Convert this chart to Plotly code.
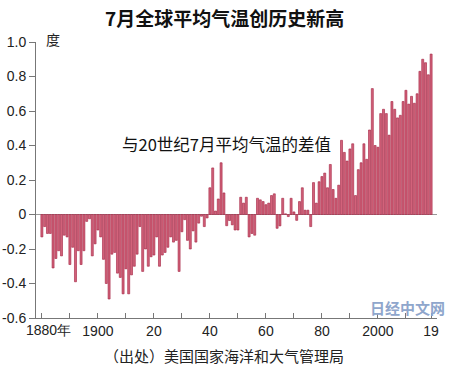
import plotly.graph_objects as go

years = list(range(1880, 2020))
anomaly = [
    -0.13, -0.07, -0.11, -0.11, -0.31, -0.255, -0.21, -0.24, -0.12, -0.13,   # 1880s
    -0.29, -0.19, -0.39, -0.21, -0.29, -0.21, -0.04, -0.025, -0.24, -0.17,   # 1890s
    -0.09, -0.13, -0.26, -0.40, -0.49, -0.23, -0.22, -0.34, -0.365, -0.46,   # 1900s
    -0.315, -0.46, -0.35, -0.30, -0.23, -0.07, -0.33, -0.20, -0.30, -0.245,  # 1910s
    -0.235, -0.13, -0.30, -0.235, -0.22, -0.19, -0.13, -0.16, -0.15, -0.33,  # 1920s
    -0.10, -0.03, -0.15, -0.20, -0.095, -0.16, -0.05, -0.01, -0.07, -0.02,   # 1930s
    0.155, 0.27, 0.02, 0.09, 0.30, 0.125, -0.065, -0.035, -0.06, -0.09,      # 1940s
    -0.09, 0.10, 0.066, 0.10, -0.13, -0.11, -0.12, 0.094, 0.085, 0.075,      # 1950s
    0.057, 0.066, 0.11, 0.12, -0.08, -0.066, 0.094, 0.004, -0.012, 0.094,    # 1960s
    0.015, -0.034, 0.075, 0.155, 0.025, 0.025, -0.07, 0.185, 0.066, 0.19,    # 1970s
    0.22, 0.24, 0.155, 0.29, 0.145, 0.094, 0.17, 0.43, 0.36, 0.31,           # 1980s
    0.38, 0.41, 0.11, 0.26, 0.30, 0.41, 0.32, 0.49, 0.73, 0.40,              # 1990s
    0.39, 0.585, 0.61, 0.585, 0.46, 0.655, 0.61, 0.56, 0.575, 0.655,         # 2000s
    0.72, 0.64, 0.685, 0.645, 0.70, 0.83, 0.90, 0.88, 0.81, 0.93,            # 2010s
]

x_tickvals = [1880, 1890, 1900, 1910, 1920, 1930, 1940, 1950, 1960, 1970, 1980, 1990, 2000, 2010, 2019]
x_ticktext = ["1880年", "", "1900", "", "20", "", "40", "", "60", "", "80", "", "2000", "", "19"]
y_tickvals = [1.0, 0.8, 0.6, 0.4, 0.2, 0, -0.2, -0.4, -0.6]
y_ticktext = ["1.0", "0.8", "0.6", "0.4", "0.2", "0", "-0.2", "-0.4", "-0.6"]

title_text = "7月全球平均气温创历史新高"
unit_text = "度"
note_text = "与20世纪7月平均气温的差值"
source_text = "（出处）美国国家海洋和大气管理局"
logo_text = "日经中文网"

CJK = "Noto Sans CJK SC"
LAT = "Liberation Sans, Arial, sans-serif"

fig = go.Figure(go.Bar(
    x=years, y=anomaly,
    marker=dict(color="#d2627a", line=dict(color="#a3203f", width=0.6)),
    hoverinfo="skip",
))

fig.update_layout(
    width=450, height=366,
    margin=dict(l=36, r=13, t=42, b=48, autoexpand=False),
    paper_bgcolor="white", plot_bgcolor="white",
    bargap=0.28,
    showlegend=False,
    font=dict(family=LAT, size=13, color="#222"),
)
# first tick label is drawn separately (shifted right, as in the source)
shown_ticktext = [""] + x_ticktext[1:]
fig.update_xaxes(
    range=[1877.9, 2021.1],
    tickvals=x_tickvals, ticktext=shown_ticktext,
    ticks="inside", ticklen=5, tickcolor="#777",
    showline=True, linecolor="#777", linewidth=1,
    showgrid=False, zeroline=False, automargin=False,
    tickfont=dict(family=LAT, size=14, color="#222"),
)
fig.update_yaxes(
    range=[-0.6, 1.0],
    tickvals=y_tickvals, ticktext=y_ticktext,
    ticks="outside", ticklen=6, tickcolor="#777",
    showline=True, linecolor="#777", linewidth=1,
    showgrid=False, automargin=False,
    zeroline=True, zerolinecolor="#999", zerolinewidth=1,
    tickfont=dict(family=LAT, size=14, color="#222"),
)

fig.add_annotation(text=x_ticktext[0], xref="x", x=x_tickvals[0], xshift=7, yref="paper", y=0, yshift=-12,
                   yanchor="middle", showarrow=False, font=dict(family=LAT, size=14, color="#222"))
fig.add_annotation(text=title_text, xref="paper", x=0.47, yref="paper", y=1.0, yshift=25,
                   yanchor="middle", showarrow=False,
                   font=dict(family=CJK, size=19, color="#111", weight="bold"))
fig.add_annotation(text=unit_text, xref="paper", x=0.02, yref="y", y=1.0, yshift=3, showarrow=False,
                   xanchor="left", yanchor="middle", font=dict(family=CJK, size=14, color="#222"))
fig.add_annotation(text=note_text, xref="x", x=1946, yref="y", y=0.41, showarrow=False,
                   xanchor="center", yanchor="middle", font=dict(family=CJK, size=16.5, color="#111"))
fig.add_annotation(text=source_text, xref="paper", x=0.47, yref="paper", y=0, yshift=-37,
                   yanchor="middle", showarrow=False, font=dict(family=CJK, size=15, color="#222"))
fig.add_annotation(text="<b>" + logo_text + "</b>", xref="paper", x=1.025, yref="paper", y=0, yshift=11,
                   xanchor="right", yanchor="middle", showarrow=False,
                   font=dict(family=CJK, size=15, color="#8fa6cc"))

fig.write_html("out.html", config={"displayModeBar": False},
               post_script="document.body.style.margin='0';")
